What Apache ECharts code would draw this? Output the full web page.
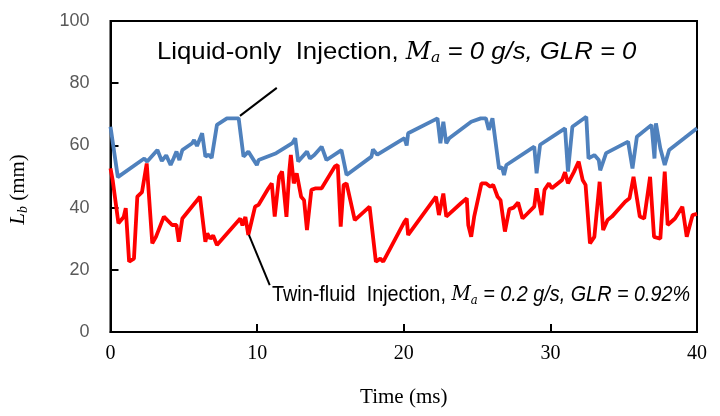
<!DOCTYPE html>
<html>
<head>
<meta charset="utf-8">
<title>Breakup length</title>
<script src="https://cdn.jsdelivr.net/npm/echarts@6/dist/echarts.min.js"></script>
</head>
<body style="margin:0;background:#fff">
<div id="container" style="width:720px;height:416px"></div>
<script>
// liquid-only injection (blue)
var liquidT = [0, 0.5, 2.3, 2.5, 3.2, 3.5, 3.8, 4.1, 4.3, 4.5, 4.7, 4.9, 5.57, 5.7, 5.9, 6.25, 6.47, 6.7, 6.9, 7.26,
  7.94, 8.74, 9.07, 9.4, 9.98, 10.1, 11.3, 12.4, 12.6, 12.8, 13.4, 13.6, 13.9, 14.4, 14.73, 15.75, 16.1, 17.8, 17.9, 18.2,
  20.05, 20.2, 20.3, 22.3, 22.5, 22.7, 22.9, 23.1, 24.6, 25.25, 25.6, 25.8, 26.05, 26.5, 26.7, 26.84, 27.0, 28.9, 29.06, 29.3,
  31.0, 31.2, 31.5, 32.45, 32.6, 33.0, 33.3, 33.4, 33.8, 35.3, 35.6, 35.9, 36.9, 37.1, 37.2, 37.5, 37.8, 38.1, 40];
var liquidL = [66, 49.8, 55.8, 54.8, 58.5, 55, 56.8, 53.7, 55.8, 58, 55.3, 58.5, 60.7, 61.7, 59.8, 63.9, 56.4, 57, 56, 66.6,
  68.7, 68.7, 56.4, 58, 53.7, 55.3, 57.5, 60.7, 62.3, 54.8, 58, 55.8, 56.9, 59.6, 55.3, 58.5, 50.5, 56.4, 58.7, 57,
  62.3, 60, 63.9, 68.7, 60.7, 67.6, 60.7, 62.3, 67.6, 68.7, 68.7, 65, 68.7, 52.6, 53, 50.5, 53.7, 59.6, 51, 60.2,
  65.5, 51.6, 66, 69.2, 55.8, 56.9, 55.3, 52, 57.5, 61.2, 52.6, 62.8, 66.6, 55.8, 67.1, 59, 53.7, 58.5, 65.5];

// twin-fluid injection (red)
var twinT = [0, 0.15, 0.54, 0.9, 1.04, 1.27, 1.6, 1.83, 2.15, 2.47, 2.85, 3.1, 3.64, 4.2, 4.5, 4.66, 4.9, 6.1, 6.47, 6.6,
  6.8, 7.0, 7.26, 8.85, 9.0, 9.2, 9.4, 9.86, 10.1, 10.77, 11.0, 11.2, 11.5, 11.7, 12.0, 12.2, 12.3, 12.5, 12.7, 13.0,
  13.2, 13.4, 13.7, 14.0, 14.4, 15.3, 15.5, 15.7, 15.9, 16.1, 16.66, 17.67, 18.1, 18.4, 18.6, 20.05, 20.2, 20.3, 22.2, 22.4,
  22.7, 22.9, 23.9, 24.3, 24.4, 24.6, 24.8, 25.3, 25.6, 25.9, 26.1, 26.4, 26.6, 26.9, 27.2, 27.5, 27.8, 28.1, 28.9, 29.06,
  29.4, 29.6, 29.9, 30.1, 30.8, 31.0, 31.2, 31.6, 31.93, 32.2, 32.4, 32.7, 33.0, 33.36, 33.6, 33.9, 34.2, 35.1, 35.4, 35.67,
  36.1, 36.4, 36.8, 37.07, 37.5, 37.8, 38.0, 38.5, 39.0, 39.3, 39.7, 40];
var twinL = [52.6, 48.8, 35, 37, 39.8, 22.6, 23.6, 43.5, 45, 54.2, 28.5, 30.6, 37.1, 34.4, 34.4, 29, 36.5, 43.5, 29, 31.7,
  30, 31, 28, 36.5, 34.3, 37, 31.2, 40.3, 40.9, 46.2, 47.8, 37.1, 50, 51.6, 37, 52, 56.9, 47.8, 51, 43.5,
  42.4, 32.8, 45.7, 46.2, 46.2, 53.2, 53.7, 33.9, 47.3, 47.8, 36, 40.3, 22.6, 23.6, 22.6, 35.5, 36.4, 31.2, 43.5, 37.6,
  44.5, 37.1, 41.4, 43, 34.4, 30.6, 37, 47.8, 47.8, 46.7, 47.3, 43.5, 42.4, 32.3, 39.5, 40, 41.6, 36.5, 40.3, 46.2,
  37.6, 45.7, 47.8, 46.2, 48.9, 51.4, 47.8, 51.4, 54.8, 48.9, 47.3, 28.5, 30.6, 48.3, 32.8, 36, 37.1, 41.9, 43, 49.9,
  37.1, 36.5, 49.9, 30.6, 30, 51.6, 34.4, 36.5, 40.3, 30.6, 37.6, 38];

var xTicks = [0, 10, 20, 30, 40];
var yTicks = [0, 20, 40, 60, 80, 100];

// leader lines from labels to curves
var topLeader = [[8.83, 69.5], [11.34, 78.5]];
var bottomLeader = [[9.44, 31.2], [10.86, 15.1]];

function pairs(t, v) {
  return t.map(function (x, i) { return [x, v[i]]; });
}

function noteRich(size) {
  return {
    n: { fontFamily: 'Liberation Sans', fontSize: size, color: '#000' },
    m: { fontFamily: 'DejaVu Serif', fontStyle: 'italic', fontSize: size - 1, color: '#000' },
    s: { fontFamily: 'DejaVu Serif', fontStyle: 'italic', fontSize: Math.round(size * 0.6), color: '#000', padding: [Math.round(size * 0.5), 0, 0, 0] },
    i: { fontFamily: 'Liberation Sans', fontStyle: 'italic', fontSize: size, color: '#000' }
  };
}

var chart = echarts.init(document.getElementById('container'));

var option = {
  animation: false,
  grid: {
    left: 108, right: 23, top: 21, bottom: 84,
    show: true, borderColor: '#000', borderWidth: 2
  },
  xAxis: {
    type: 'value', min: 0, max: 40, interval: 10,
    name: 'Time (ms)', nameLocation: 'middle', nameGap: 55,
    nameTextStyle: { fontFamily: 'Liberation Serif', fontSize: 21, color: '#000' },
    axisLine: { show: true, lineStyle: { color: '#000', width: 2 } },
    axisTick: { show: true, inside: true, length: 8, lineStyle: { color: '#000', width: 2 } },
    axisLabel: {
      fontFamily: 'Liberation Serif', fontSize: 20, color: '#000', margin: 12,
      formatter: function (v) { return xTicks.indexOf(v) >= 0 ? String(v) : ''; }
    },
    splitLine: { show: false }
  },
  yAxis: {
    type: 'value', min: 0, max: 100, interval: 20,
    name: '{l|L}{b|b}{r| (mm)}', nameLocation: 'middle', nameGap: 80, nameRotate: 90,
    nameTextStyle: {
      padding: [0, 26, 0, 0],
      rich: {
        l: { fontFamily: 'Liberation Serif', fontStyle: 'italic', fontSize: 21, color: '#000' },
        b: { fontFamily: 'Liberation Serif', fontStyle: 'italic', fontSize: 14, color: '#000', padding: [10, 0, 0, 0] },
        r: { fontFamily: 'Liberation Serif', fontSize: 21, color: '#000' }
      }
    },
    axisLine: { show: true, lineStyle: { color: '#000', width: 2 } },
    axisTick: { show: true, inside: true, length: 8, lineStyle: { color: '#000', width: 2 } },
    axisLabel: {
      fontFamily: 'Liberation Sans', fontSize: 18, color: '#595959', margin: 21,
      formatter: function (v) { return yTicks.indexOf(v) >= 0 ? String(v) : ''; }
    },
    splitLine: { show: false }
  },
  series: [
    {
      name: 'Liquid-only', type: 'line', data: pairs(liquidT, liquidL),
      showSymbol: false, lineStyle: { color: '#4f81bd', width: 3.8 }, z: 3,
      markLine: {
        silent: true, symbol: 'none', label: { show: false },
        lineStyle: { color: '#000', width: 2, type: 'solid' },
        data: [[{ coord: topLeader[0] }, { coord: topLeader[1] }]]
      }
    },
    {
      name: 'Twin-fluid', type: 'line', data: pairs(twinT, twinL),
      showSymbol: false, lineStyle: { color: '#ff0000', width: 3.8 }, z: 2,
      markLine: {
        silent: true, symbol: 'none', label: { show: false },
        lineStyle: { color: '#000', width: 2, type: 'solid' },
        data: [[{ coord: bottomLeader[0] }, { coord: bottomLeader[1] }]]
      }
    }
  ],
  graphic: [
    {
      type: 'text', left: 157, top: 40, scaleX: 1.05,
      style: {
        text: '{n|Liquid-only  Injection, }{m|M}{s|a}{i| = 0 g/s, GLR = 0}',
        rich: noteRich(24.5)
      }
    },
    {
      type: 'text', left: 272, top: 284, scaleX: 0.9,
      style: {
        text: '{n|Twin-fluid  Injection, }{m|M}{s|a}{i| = 0.2 g/s, GLR = 0.92%}',
        rich: noteRich(22)
      }
    }
  ]
};

chart.setOption(option);
</script>
</body>
</html>
